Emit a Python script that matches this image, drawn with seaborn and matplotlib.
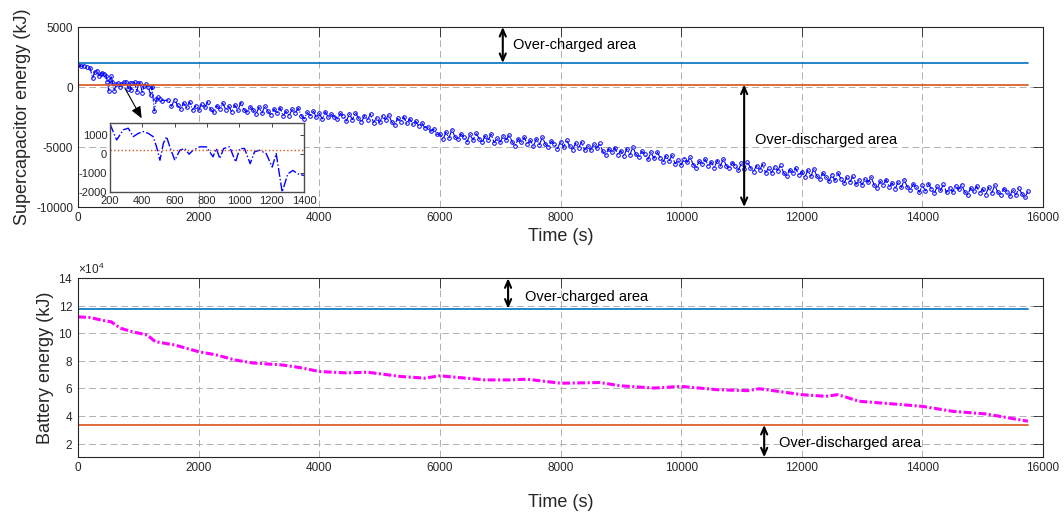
import numpy as np
import pandas as pd
import matplotlib
matplotlib.use("Agg")
import matplotlib.pyplot as plt
import seaborn as sns

sns.set_style("white")
plt.rcParams["font.family"] = ["Liberation Sans", "DejaVu Sans"]
plt.rcParams["mathtext.fontset"] = "custom"
plt.rcParams["mathtext.rm"] = "Liberation Sans"
plt.rcParams["axes.unicode_minus"] = False

# ---- Supercapacitor energy (kJ) ----
# start-up phase, finely sampled (also shown in the zoomed inset)
sc_early_t = [0, 50, 100, 150, 200, 241, 282, 313, 344, 375, 406, 437, 467, 488,
              509, 530, 550, 570, 601, 632, 663, 689, 714, 755, 796, 837, 858, 879,
              903, 940, 977, 1002, 1032, 1067, 1094, 1125, 1166, 1203, 1228, 1265,
              1300, 1331, 1362, 1400]
sc_early_e = [1850, 1720, 1790, 1640, 1600, 750, 1290, 1375, 930, 1100, 1200, 1100,
              930, 390, -320, 570, 930, 390, -320, 210, 300, 0, 210, 390, 390, -140,
              300, -230, 300, 390, -410, 300, 300, -500, 125, 210, 35, -680, 35,
              -2000, -1040, -860, -1040, -1125]
# remainder of the drive cycle, sampled every 50 s from 1500 s
sc_late_start, sc_late_step = 1500, 50
sc_late_e = [
    -1100, -1600, -1050, -1520, -1850, -1330, -1700, -1230, -1910, -1550,
    -1950, -1400, -1700, -1250, -1850, -2100, -1550, -1800, -1350, -1900,
    -1620, -2090, -1500, -1950, -1300, -1880, -2100, -1640, -1900, -2280,
    -1700, -2170, -1570, -2030, -2350, -1830, -2200, -1720, -2400, -2030,
    -2400, -1870, -2190, -1750, -2380, -2650, -2120, -2380, -1960, -2530,
    -2200, -2660, -2070, -2540, -2290, -2470, -2680, -2200, -2420, -2830,
    -2250, -2720, -2130, -2600, -2920, -2380, -2740, -2260, -2960, -2580,
    -2950, -2420, -2730, -2300, -2900, -3150, -2620, -2880, -2480, -3030,
    -2650, -3100, -2850, -3250, -3000, -3400, -3350, -3700, -3500, -3950,
    -3900, -4370, -3780, -4240, -3570, -4150, -4360, -3920, -4200, -4560,
    -3950, -4420, -3830, -4300, -4620, -4080, -4440, -3950, -4640, -4270,
    -4600, -4070, -4400, -3980, -4600, -4880, -4320, -4600, -4200, -4780,
    -4450, -4920, -4330, -4800, -4170, -4770, -4990, -4510, -4770, -5130,
    -4550, -5020, -4430, -4900, -5220, -4690, -5060, -4580, -5260, -4880,
    -5250, -4750, -5100, -4700, -5350, -5650, -5150, -5450, -5050, -5650,
    -5300, -5770, -5170, -5650, -5030, -5600, -5830, -5360, -5620, -6030,
    -5450, -5950, -5380, -5880, -6230, -5750, -6150, -5700, -6400, -6100,
    -6500, -5960, -6280, -5850, -6460, -6720, -6180, -6440, -6020, -6580,
    -6250, -6720, -6130, -6600, -5970, -6570, -6790, -6310, -6570, -6930,
    -6350, -6830, -6250, -6730, -7060, -6550, -6930, -6450, -7140, -6770,
    -7150, -6630, -6960, -6530, -7150, -7430, -6900, -7180, -6760, -7370,
    -7050, -7530, -6950, -7440, -6820, -7420, -7660, -7180, -7470, -7860,
    -7300, -7790, -7190, -7670, -8020, -7500, -7890, -7420, -8120, -7770,
    -8150, -7630, -7950, -7530, -8150, -8420, -7870, -8130, -7720, -8320,
    -8000, -8480, -7890, -8370, -7750, -8320, -8550, -8080, -8360, -8770,
    -8200, -8660, -8060, -8520, -8820, -8270, -8620, -8120, -8790, -8400,
    -8750, -8220, -8540, -8130, -8720, -8980, -8420, -8680, -8270, -8840,
    -8500, -8960, -8370, -8830, -8200, -8760, -8970, -8470, -8710, -9090,
    -8550, -9000, -8450, -8900, -9200, -8700]
sc_upper = 2000     # over-charge limit
sc_lower = 200      # over-discharge limit

# ---- Battery energy (kJ) ----
bat_t = [0, 200, 400, 550, 700, 900, 1150, 1280, 1600, 2000, 2300, 2600, 2900, 3400,
         3700, 4000, 4450, 4800, 5350, 5750, 6000, 6750, 7150, 7450, 8000, 8650, 9000,
         9550, 10000, 10600, 11100, 11300, 12000, 12400, 12600, 12950, 13650, 14000,
         14500, 15050, 15750]
bat_e = [112000, 111500, 109500, 108400, 103800, 101200, 98800, 94000, 91600, 86700,
         84300, 80700, 78500, 77000, 75000, 72300, 71300, 71800, 68700, 67500, 69200,
         66200, 66200, 66700, 63800, 64300, 61900, 60300, 61500, 59100, 58400, 59800,
         55500, 54300, 55500, 50700, 48300, 47000, 43400, 41500, 36200]
bat_upper = 118000
bat_lower = 33500

t_end = 15750

sc_late_t = list(range(sc_late_start, sc_late_start + sc_late_step * len(sc_late_e), sc_late_step))
sc = pd.DataFrame({"t": sc_early_t + sc_late_t, "e": sc_early_e + sc_late_e})
bat = pd.DataFrame({"t": bat_t, "e": bat_e})

ML_BLUE = "#0072BD"
ML_ORANGE = "#D95319"
FRAME = "#262626"

W, H = 1064, 514
fig = plt.figure(figsize=(W / 100, H / 100), dpi=100)
ax1 = fig.add_axes([78 / W, (H - 207) / H, 965 / W, 180 / H])
ax2 = fig.add_axes([78 / W, (H - 457.3) / H, 965 / W, 179 / H])


def style_axis(ax, tick_len=7, labelsize=8.5):
    ax.tick_params(direction="in", length=tick_len, width=0.6, color=FRAME,
                   top=True, right=True, labelsize=labelsize, labelcolor=FRAME)
    for s in ax.spines.values():
        s.set_color(FRAME)
        s.set_linewidth(0.8)
        s.set_visible(True)


# ---------- top panel ----------
sns.lineplot(data=sc, x="t", y="e", ax=ax1, color="blue", linestyle="-.",
             linewidth=0.8, marker="o", markersize=2.6, markerfacecolor="none",
             markeredgecolor="blue", markeredgewidth=0.7, sort=False)
ax1.plot([0, t_end], [sc_upper, sc_upper], color=ML_BLUE, lw=1.2)
ax1.plot([0, t_end], [sc_lower, sc_lower], color=ML_ORANGE, lw=1.2)
ax1.set_xlim(0, 16000)
ax1.set_ylim(-10000, 5000)
ax1.set_xticks(range(0, 16001, 2000))
ax1.set_yticks([-10000, -5000, 0, 5000])
ax1.grid(True, linestyle=(0, (7, 4)), color="#b0b0b0", linewidth=0.7)
style_axis(ax1)
ax1.set_xlabel("Time (s)", fontsize=13, color=FRAME, labelpad=3)
ax1.set_ylabel("Supercapacitor energy (kJ)", fontsize=13, color=FRAME, labelpad=4)

arrow2 = dict(arrowstyle="<->,head_length=0.5,head_width=0.22", lw=1.5, color="k",
              shrinkA=0, shrinkB=0)
ax1.annotate("", xy=(7043, 5000), xytext=(7043, sc_upper), arrowprops=arrow2)
ax1.text(7208, 3500, "Over-charged area", fontsize=10.5, va="center", color="k")
ax1.annotate("", xy=(11045, sc_lower), xytext=(11045, -10000), arrowprops=arrow2)
ax1.text(11227, -4420, "Over-discharged area", fontsize=10.5, va="center", color="k")
ax1.annotate("", xy=(1056, -2610), xytext=(779, -110),
             arrowprops=dict(arrowstyle="-|>,head_length=0.7,head_width=0.3",
                             lw=0.8, color="k", shrinkA=0, shrinkB=0))

# ---------- inset: zoom on 200-1400 s ----------
axin = fig.add_axes([110 / W, (H - 192) / H, 194 / W, 69 / H])
early = sc[(sc["t"] >= 200) & (sc["t"] <= 1400)]
sns.lineplot(data=early, x="t", y="e", ax=axin, color="blue", linestyle="-.",
             linewidth=1.0, sort=False)
axin.plot([200, 1400], [sc_lower, sc_lower], color=ML_ORANGE, lw=1.0, linestyle=":")
axin.set_xlim(200, 1400)
axin.set_ylim(-2000, 1650)
axin.set_xticks(range(200, 1401, 200))
axin.set_yticks([-2000, -1000, 0, 1000])
axin.set_xlabel("")
axin.set_ylabel("")
axin.tick_params(direction="in", length=3, width=0.6, color=FRAME, top=True,
                 right=True, labelsize=8, pad=2, labelcolor=FRAME)
axin.tick_params(axis="x", pad=3)
for s in axin.spines.values():
    s.set_color("#4d4d4d")
    s.set_linewidth(1.0)
    s.set_visible(True)

# ---------- bottom panel ----------
sns.lineplot(data=bat, x="t", y="e", ax=ax2, color="magenta",
             linestyle=(0, (2.6, 0.8, 0.7, 0.8)), linewidth=2.2, sort=False)
ax2.plot([0, t_end], [bat_upper, bat_upper], color=ML_BLUE, lw=1.2)
ax2.plot([0, t_end], [bat_lower, bat_lower], color=ML_ORANGE, lw=1.2)
ax2.set_xlim(0, 16000)
ax2.set_ylim(10000, 140000)
ax2.set_xticks(range(0, 16001, 2000))
ax2.set_yticks(range(20000, 140001, 20000))
ax2.ticklabel_format(axis="y", style="sci", scilimits=(4, 4), useMathText=True)
ax2.yaxis.get_offset_text().set_fontsize(8.5)
ax2.yaxis.get_offset_text().set_color(FRAME)
ax2.grid(True, linestyle=(0, (7, 4)), color="#b0b0b0", linewidth=0.7)
style_axis(ax2)
ax2.set_xlabel("Time (s)", fontsize=13, color=FRAME, labelpad=14)
ax2.set_ylabel("Battery energy (kJ)", fontsize=13, color=FRAME, labelpad=3)

ax2.annotate("", xy=(7131, 140000), xytext=(7131, bat_upper), arrowprops=arrow2)
ax2.text(7413, 126500, "Over-charged area", fontsize=10.5, va="center", color="k")
ax2.annotate("", xy=(11377, bat_lower), xytext=(11377, 10000), arrowprops=arrow2)
ax2.text(11626, 20500, "Over-discharged area", fontsize=10.5, va="center", color="k")

fig.savefig("out.png", dpi=100, facecolor="white")
